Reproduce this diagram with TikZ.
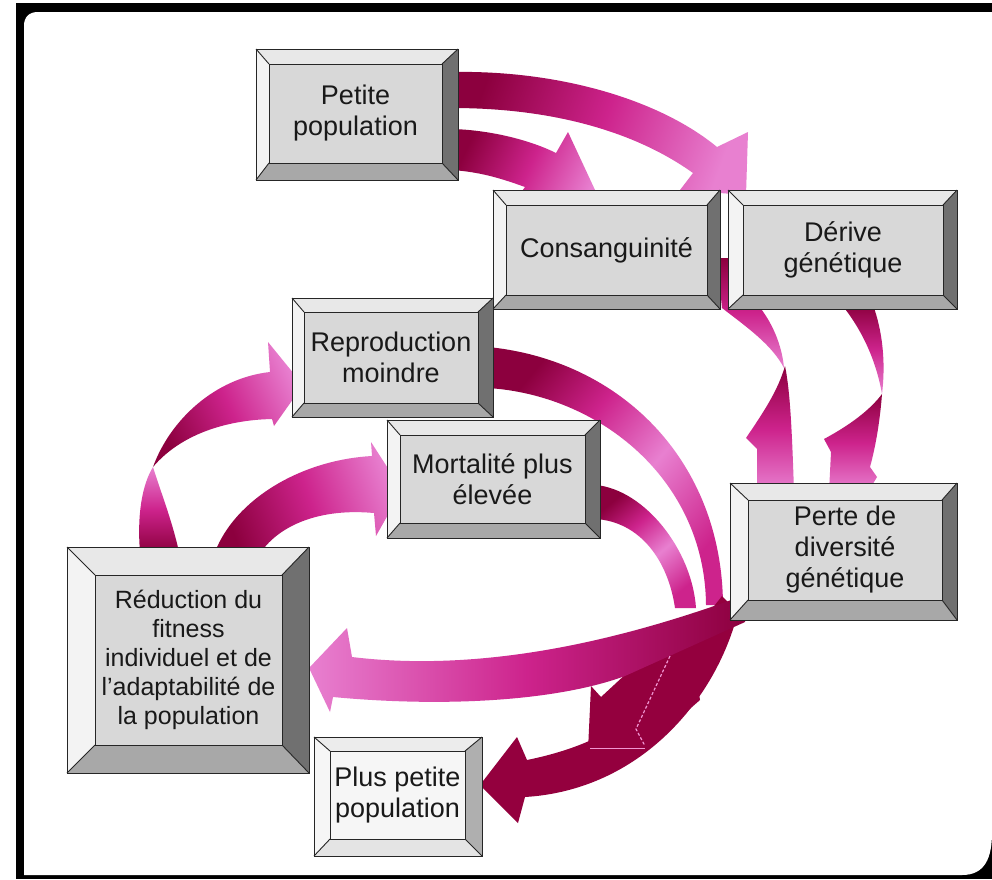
\documentclass[tikz,border=0pt]{standalone}
\usepackage{fontspec}
\setmainfont{Liberation Sans}
\usetikzlibrary{calc}
\definecolor{arrdark}{RGB}{140,0,62}
\definecolor{arrmid}{RGB}{205,35,140}
\definecolor{arrlight}{RGB}{232,128,208}
\definecolor{arrdeep}{RGB}{148,0,62}
\definecolor{dashpink}{RGB}{240,150,210}
\definecolor{stdface}{RGB}{216,216,216}
\definecolor{stdtop}{RGB}{232,232,232}
\definecolor{stdleft}{RGB}{243,243,243}
\definecolor{stdright}{RGB}{112,112,112}
\definecolor{stdbot}{RGB}{168,168,168}
\definecolor{liteface}{RGB}{246,246,246}
\definecolor{litetop}{RGB}{236,236,236}
\definecolor{liteleft}{RGB}{246,246,246}
\definecolor{literight}{RGB}{175,175,175}
\definecolor{litebot}{RGB}{228,228,228}
\pgfdeclarehorizontalshading{ribbon}{100bp}{color(0bp)=(arrdark); color(25bp)=(arrdark); color(50bp)=(arrmid); color(75bp)=(arrlight); color(100bp)=(arrlight)}
\pgfdeclarehorizontalshading{ribbonback}{100bp}{color(0bp)=(arrdark); color(25bp)=(arrdark); color(40bp)=(arrmid); color(56bp)=(arrlight); color(75bp)=(arrmid); color(100bp)=(arrmid)}
\tikzset{
  rib/.style={shading=ribbon, shading angle=#1},
  ribback/.style={shading=ribbonback, shading angle=#1},
  bevline/.style={draw=black!85, line width=0.9pt, line join=miter},
  boxtext/.style={inner sep=0pt, align=center, text=black!90, font=\fontsize{27}{31}\selectfont},
}
\newcommand\bevbox[7]{%
  \coordinate (#1oa) at #2; \coordinate (#1ob) at #3;
  \coordinate (#1ia) at #4; \coordinate (#1ib) at #5;
  \fill[#6top] (#1oa) -- (#1ob |- #1oa) -- (#1ib |- #1ia) -- (#1ia) -- cycle;
  \fill[#6left] (#1oa) -- (#1ia) -- (#1ia |- #1ib) -- (#1oa |- #1ob) -- cycle;
  \fill[#6right] (#1ob |- #1oa) -- (#1ob) -- (#1ib) -- (#1ib |- #1ia) -- cycle;
  \fill[#6bot] (#1oa |- #1ob) -- (#1ob) -- (#1ib) -- (#1ia |- #1ib) -- cycle;
  \fill[#6face] (#1ia) rectangle (#1ib);
  \draw[bevline] (#1oa) rectangle (#1ob);
  \draw[bevline] (#1ia) rectangle (#1ib);
  \draw[bevline] (#1oa) -- (#1ia) (#1ob) -- (#1ib) (#1ob |- #1oa) -- (#1ib |- #1ia) (#1oa |- #1ob) -- (#1ia |- #1ib);
  \node[boxtext] (#1) at ($(#1ia)!0.5!(#1ib)$) {#7};
}
\begin{document}
\begin{tikzpicture}[x=1pt,y=-1pt]
\useasboundingbox (0,0) rectangle (992,879);
\fill[white] (0,0) rectangle (992,879);
\fill[black] (16,3) rectangle (992,879);
\fill[white] (24,875) -- (24,26) .. controls (24,17) and (29,12) .. (38,12) -- (992,12) -- (992,832) .. controls (992,858) and (985,875) .. (962,875) -- cycle;

% Petite -> Derive
\shade[rib=-20] (452,72) .. controls (560,70) and (660,100) .. (717,147) -- (748,132) -- (746,195) -- (680,190) -- (693,173) .. controls (640,135) and (560,108) .. (452,108) -- cycle;
% Petite -> Consanguinite
\shade[rib=-25] (452,129) .. controls (490,130) and (530,140) .. (556,153) -- (568,132) -- (602,205) -- (505,215) -- (525,187) .. controls (500,178) and (480,172) .. (452,170) -- cycle;
% Consanguinite -> Perte
\shade[rib=-90] (717,258) -- (722,308) .. controls (748,328) and (772,345) .. (784,368) .. controls (782,345) and (772,322) .. (758,305) -- (738,258) -- cycle;
\shade[rib=-90] (785,366) .. controls (790,390) and (792,430) .. (794,492) -- (757,492) -- (757,449) -- (746,438) .. controls (765,410) and (778,390) .. (785,366) -- cycle;
% Derive -> Perte
\shade[rib=-90] (842,305) .. controls (862,330) and (876,360) .. (882,394) .. controls (886,360) and (882,330) .. (873,305) -- cycle;
\shade[rib=-90] (882,394) .. controls (880,420) and (876,445) .. (870,467) -- (877,477) -- (868,492) -- (829,492) -- (831,452) -- (824,439) .. controls (850,425) and (870,410) .. (882,394) -- cycle;
% Reproduction arc
\shade[ribback=-40] (488,347) .. controls (620,360) and (722,460) .. (723,605) -- (706,605) .. controls (705,480) and (600,395) .. (488,388) -- cycle;
% Mortalite arc
\shade[ribback=-50] (596,485) .. controls (645,490) and (692,550) .. (696,608) -- (675,608) .. controls (668,560) and (640,522) .. (596,519) -- cycle;
% Reduction -> Reproduction
\shade[rib=90] (140,552) .. controls (137,515) and (142,485) .. (153,467) .. controls (160,490) and (172,520) .. (179,552) -- cycle;
\shade[rib=25] (153,467) .. controls (170,420) and (215,378) .. (270,372) -- (268,342) -- (303,385) -- (274,426) -- (272,419) .. controls (225,420) and (180,435) .. (153,467) -- cycle;
% Reduction -> Mortalite
\shade[rib=20] (215,552) .. controls (235,500) and (300,460) .. (372,456) -- (371,442) -- (402,490) -- (376,536) -- (374,513) .. controls (320,508) and (280,525) .. (261,552) -- cycle;
% Perte -> Plus petite population
\fill[arrdeep] (738,612) .. controls (716,700) and (640,790) .. (525,797) -- (518,823) -- (480,785) -- (517,737) -- (527,760) .. controls (600,745) and (650,715) .. (672,660) -- (722,596) -- cycle;
\fill[arrdeep] (591,686) -- (601,697) -- (628,672) -- (690,640) -- (700,700) -- (645,748) -- (588,750) -- cycle;
% Perte -> Reduction
\shade[rib=180] (745,595) .. controls (650,630) and (500,675) .. (352,657) -- (347,628) -- (309,668) -- (330,712) -- (333,697) .. controls (450,708) and (560,700) .. (625,676) -- (745,622) -- cycle;
\draw[dashpink, line width=1.2pt, dash pattern=on 3pt off 2pt] (670,656) -- (636,729) -- (645,746);
\draw[dashpink, line width=1pt] (590,748) -- (645,748);

% boxes
\bevbox{pp}{(256,49)}{(458,180)}{(269,64)}{(442,163)}{std}{Petite\\population}
\bevbox{co}{(493,190)}{(720,309)}{(506,205)}{(707,295)}{std}{Consanguinité}
\bevbox{dg}{(728,190)}{(957,309)}{(743,205)}{(943,295)}{std}{Dérive\\génétique}
\bevbox{rm}{(292,298)}{(493,417)}{(304,312)}{(478,403)}{std}{Reproduction\\moindre}
\bevbox{mp}{(387,420)}{(600,538)}{(400,435)}{(585,523)}{std}{Mortalité plus\\élevée}
\bevbox{pd}{(730,483)}{(957,620)}{(748,500)}{(942,600)}{std}{Perte de\\diversité\\génétique}
\begin{scope}[boxtext/.append style={font=\fontsize{25}{29}\selectfont}]
\bevbox{rf}{(67,547)}{(309,773)}{(95,575)}{(282,745)}{std}{Réduction du\\fitness\\individuel et de\\l'adaptabilité de\\la population}
\end{scope}
\bevbox{sp}{(314,737)}{(482,856)}{(330,751)}{(465,839)}{lite}{Plus petite\\population}
\end{tikzpicture}
\end{document}
